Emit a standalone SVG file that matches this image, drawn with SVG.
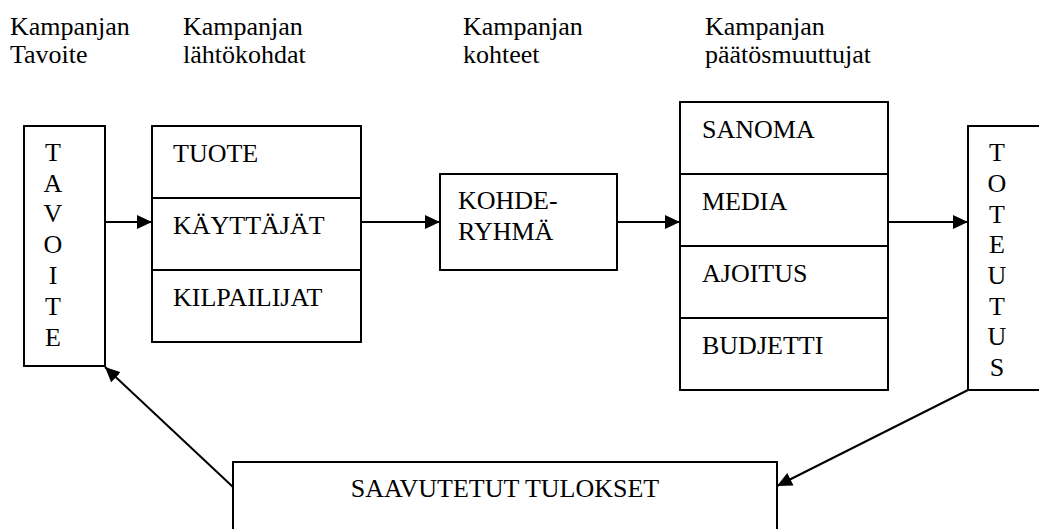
<svg xmlns="http://www.w3.org/2000/svg" width="1039" height="529" viewBox="0 0 1039 529" font-family="'Liberation Serif', 'Times New Roman', serif" font-size="26">
  <style>
    .box { fill: #fff; stroke: #000; stroke-width: 2; }
    .div { stroke: #000; stroke-width: 2; }
    .link { fill: none; stroke: #000; stroke-width: 2; }
    .mid { text-anchor: middle; }
  </style>
  <defs>
    <marker id="arrow" viewBox="0 0 15 14" refX="15" refY="7" markerWidth="15" markerHeight="14" markerUnits="userSpaceOnUse" orient="auto">
      <path d="M0,0 L15,7 L0,14 Z" fill="#000"/>
    </marker>
  </defs>
  <rect width="1039" height="529" fill="#fff"/>

  <!-- column headings -->
  <g id="headings">
    <text x="10" y="35">Kampanjan</text>
    <text x="10" y="63">Tavoite</text>
    <text x="183" y="35">Kampanjan</text>
    <text x="183" y="63">lähtökohdat</text>
    <text x="463" y="35">Kampanjan</text>
    <text x="463" y="63">kohteet</text>
    <text x="705" y="35">Kampanjan</text>
    <text x="705" y="63">päätösmuuttujat</text>
  </g>

  <!-- goal (vertical lettering) -->
  <g id="tavoite">
    <rect class="box" x="24" y="126" width="81" height="240"/>
    <text class="mid" x="53" y="161">T</text>
    <text class="mid" x="53" y="192">A</text>
    <text class="mid" x="53" y="222">V</text>
    <text class="mid" x="53" y="253">O</text>
    <text class="mid" x="53" y="284">I</text>
    <text class="mid" x="53" y="315">T</text>
    <text class="mid" x="53" y="346">E</text>
  </g>

  <!-- starting points -->
  <g id="lahtokohdat">
    <rect class="box" x="152" y="126" width="209" height="216"/>
    <line class="div" x1="152" y1="198" x2="361" y2="198"/>
    <line class="div" x1="152" y1="270" x2="361" y2="270"/>
    <text x="173" y="162">TUOTE</text>
    <text x="173" y="234">KÄYTTÄJÄT</text>
    <text x="173" y="306">KILPAILIJAT</text>
  </g>

  <!-- target group -->
  <g id="kohderyhma">
    <rect class="box" x="440" y="174" width="177" height="96"/>
    <text x="458" y="209">KOHDE-</text>
    <text x="458" y="240">RYHMÄ</text>
  </g>

  <!-- decision variables -->
  <g id="paatosmuuttujat">
    <rect class="box" x="680" y="102" width="208" height="288"/>
    <line class="div" x1="680" y1="174" x2="888" y2="174"/>
    <line class="div" x1="680" y1="246" x2="888" y2="246"/>
    <line class="div" x1="680" y1="318" x2="888" y2="318"/>
    <text x="702" y="138">SANOMA</text>
    <text x="702" y="210">MEDIA</text>
    <text x="702" y="282">AJOITUS</text>
    <text x="702" y="354">BUDJETTI</text>
  </g>

  <!-- implementation (vertical lettering) -->
  <g id="toteutus">
    <rect class="box" x="968" y="126" width="90" height="264"/>
    <text class="mid" x="997" y="161">T</text>
    <text class="mid" x="997" y="192">O</text>
    <text class="mid" x="997" y="223">T</text>
    <text class="mid" x="997" y="253">E</text>
    <text class="mid" x="997" y="284">U</text>
    <text class="mid" x="997" y="315">T</text>
    <text class="mid" x="997" y="345">U</text>
    <text class="mid" x="997" y="376">S</text>
  </g>

  <!-- achieved results -->
  <g id="tulokset">
    <rect class="box" x="233" y="462" width="544" height="80"/>
    <text class="mid" x="505" y="497">SAAVUTETUT TULOKSET</text>
  </g>

  <!-- connectors -->
  <g id="connectors">
    <line class="link" x1="105" y1="222" x2="152" y2="222" marker-end="url(#arrow)"/>
    <line class="link" x1="361" y1="222" x2="440" y2="222" marker-end="url(#arrow)"/>
    <line class="link" x1="617" y1="222" x2="680" y2="222" marker-end="url(#arrow)"/>
    <line class="link" x1="888" y1="222" x2="968" y2="222" marker-end="url(#arrow)"/>
    <line class="link" x1="968" y1="390" x2="777" y2="486" marker-end="url(#arrow)"/>
    <line class="link" x1="233" y1="487" x2="105" y2="367" marker-end="url(#arrow)"/>
  </g>
</svg>
